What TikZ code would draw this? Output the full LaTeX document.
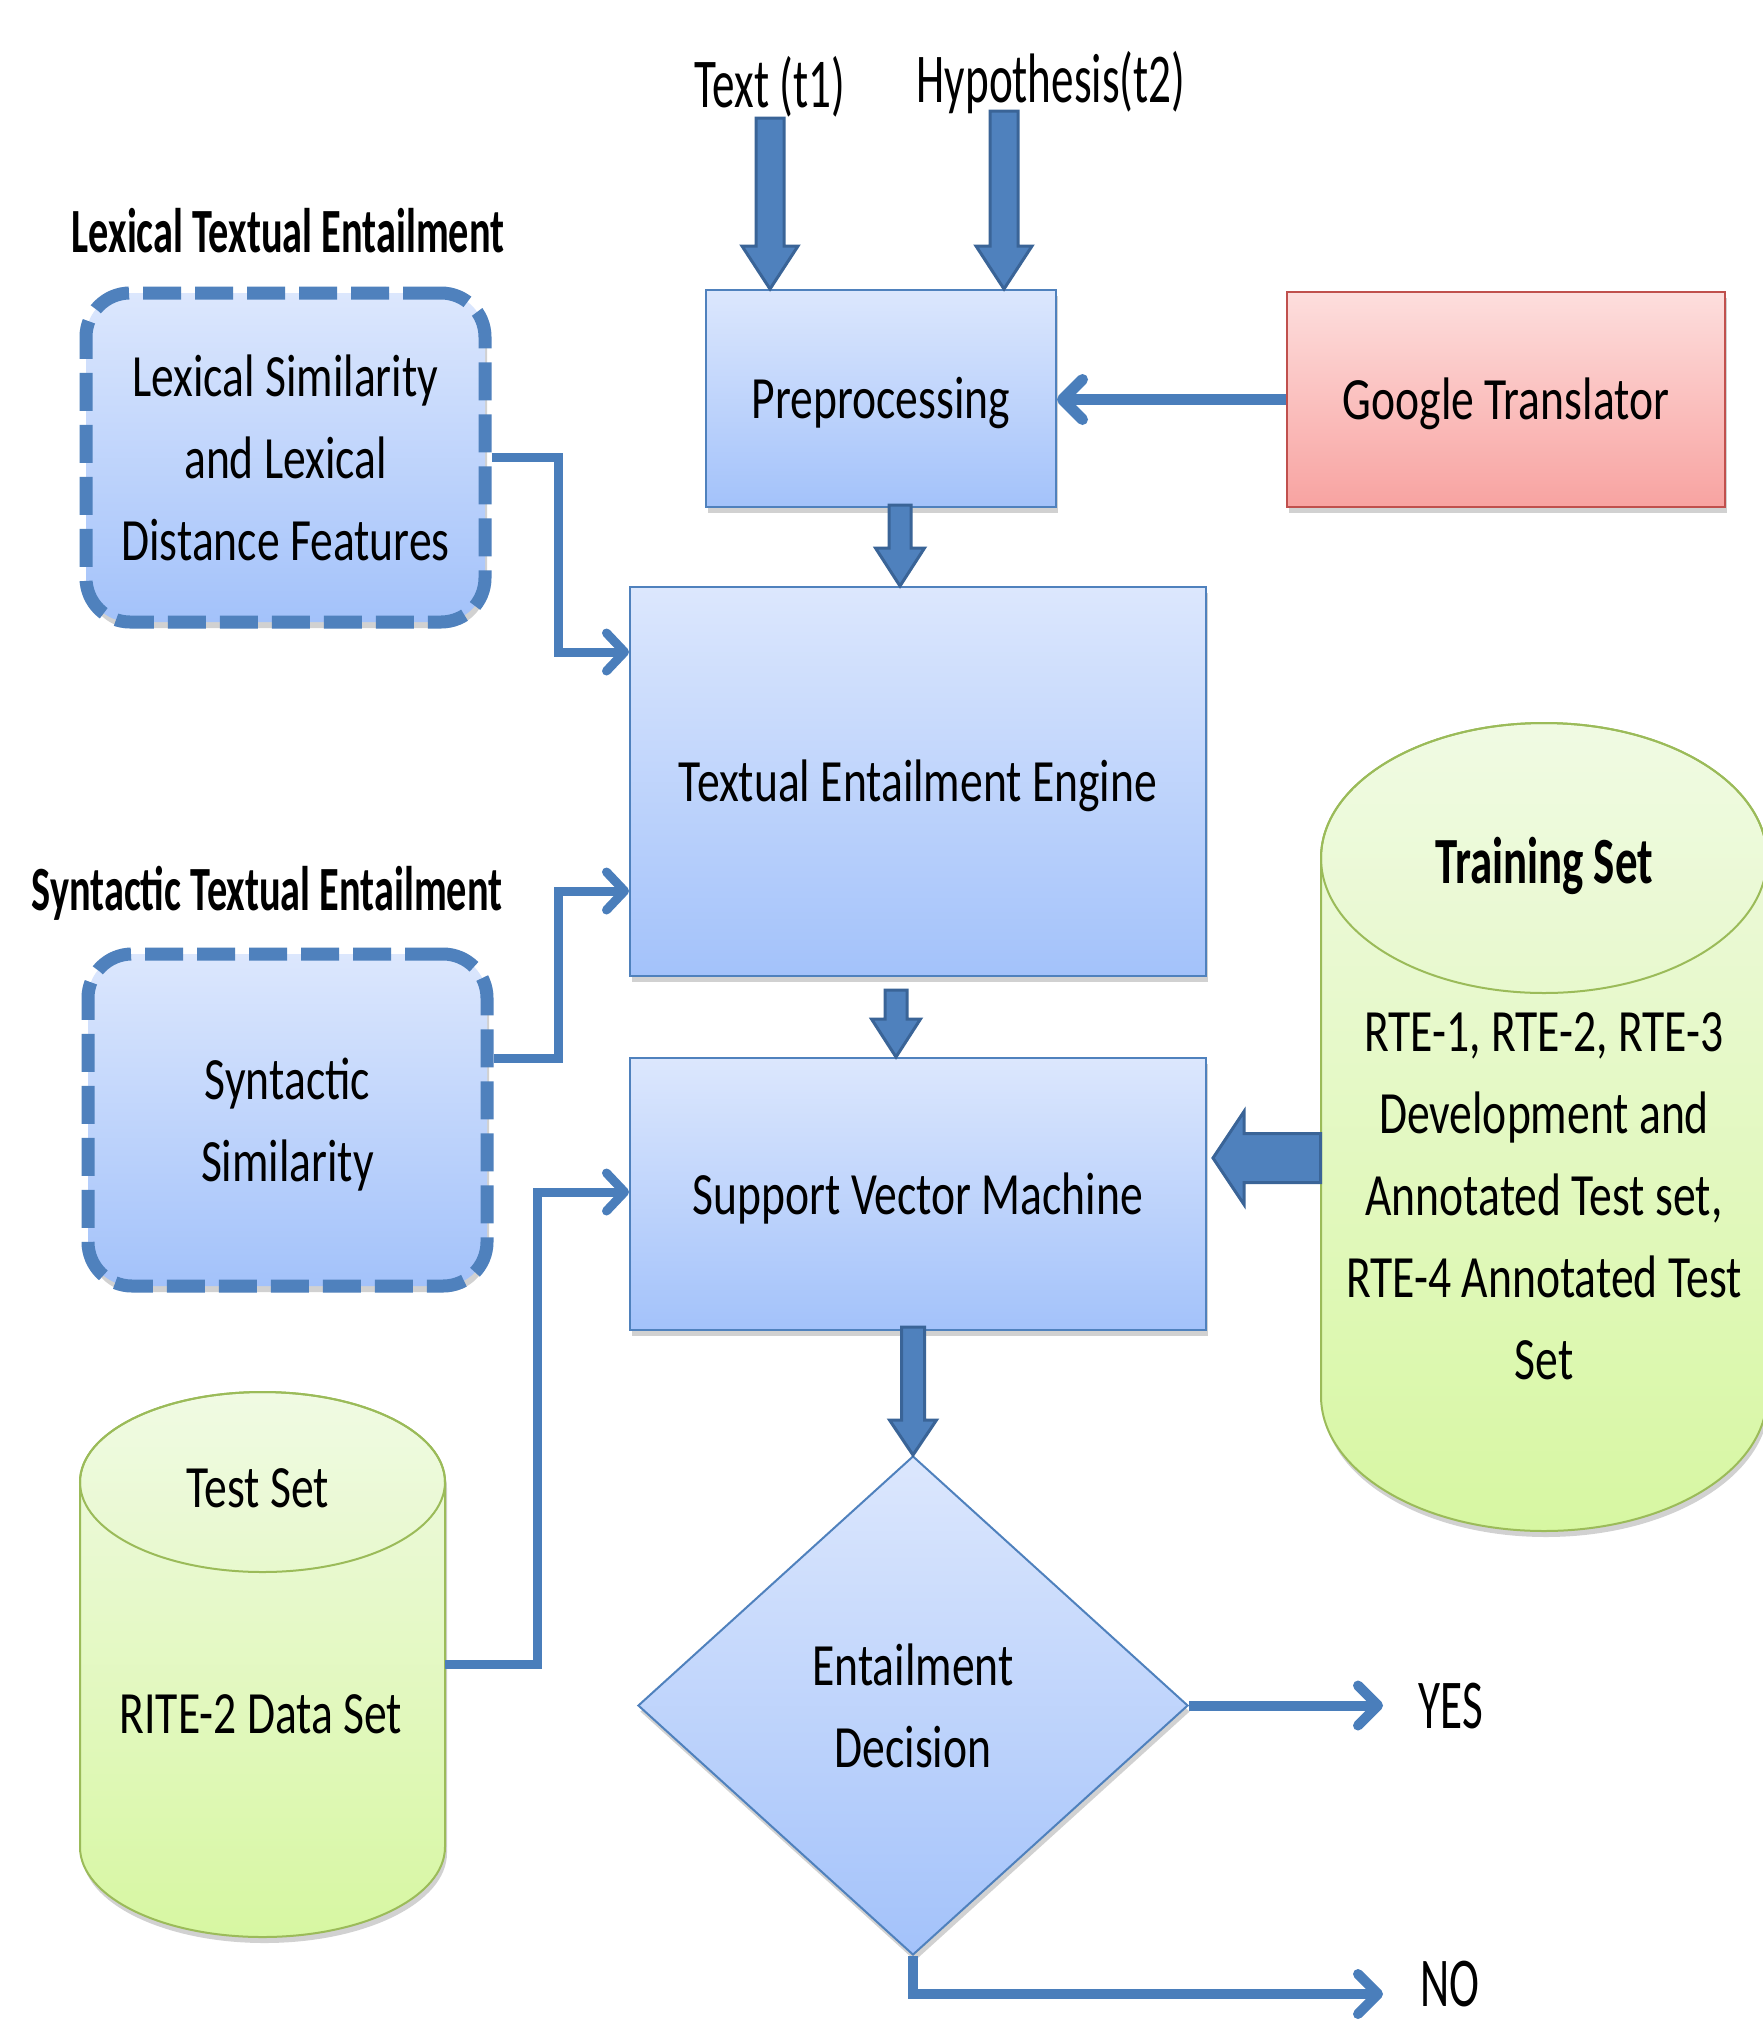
\documentclass[tikz,border=0pt]{standalone}
\usepackage{fontspec}
\setmainfont{Carlito}
\newfontfamily\boxf{Carlito}[FakeStretch=0.76]
\newfontfamily\labf{Carlito}[FakeStretch=0.645]
\newfontfamily\headf{Carlito}[FakeStretch=0.64]
\newfontfamily\trainf{Carlito}[FakeStretch=0.68]
\usetikzlibrary{arrows.meta,calc,shapes.geometric,shadows}

\definecolor{bluetop}{HTML}{DCE7FD}
\definecolor{bluebot}{HTML}{A3C2FA}
\definecolor{boxline}{HTML}{4F81BD}
\definecolor{arrfill}{HTML}{4F81BD}
\definecolor{arrline}{HTML}{3A6497}
\definecolor{connc}{HTML}{4A7EBB}
\definecolor{redtop}{HTML}{FDDEDD}
\definecolor{redbot}{HTML}{F8A3A1}
\definecolor{redline}{HTML}{C0504D}
\definecolor{greentop}{HTML}{F0FAE3}
\definecolor{greenbot}{HTML}{D7F7A2}
\definecolor{greenline}{HTML}{9BBB59}

\tikzset{
  shad/.style={drop shadow={shadow xshift=1pt,shadow yshift=-3pt,opacity=0.18,fill=black}},
  boxtext/.style={font=\boxf\fontsize{30}{41}\selectfont,align=center},
  box/.style={draw=boxline,line width=1pt,top color=bluetop,bottom color=bluebot,
    inner sep=0pt,boxtext,shad},
  oneline/.style={text height=20pt,text depth=0pt},
  redbox/.style={box,draw=redline,top color=redtop,bottom color=redbot},
  dbox/.style={box,line width=6.5pt,rounded corners=22pt,dash pattern=on 19pt off 7pt},
  dia/.style={box,diamond},
  cyl/.style={draw=greenline,line width=1pt,top color=greentop,bottom color=greenbot,shad},
  cylline/.style={draw=greenline,line width=1pt},
  labtext/.style={font=\labf\fontsize{35}{42}\selectfont,inner sep=0pt},
  headtext/.style={font=\headf\bfseries\fontsize{31.5}{38}\selectfont,inner sep=0pt},
  traintext/.style={font=\trainf\bfseries\fontsize{33}{40}\selectfont,inner sep=0pt},
  conn/.style={draw=connc,line width=4.5pt,-{Straight Barb[round,length=9pt,width=19pt]}},
  conng/.style={conn,line width=5.5pt,-{Straight Barb[round,length=10pt,width=20pt]}},
  conny/.style={conn,line width=5pt,-{Straight Barb[round,length=10pt,width=20pt]}},
  fatarr/.style={fill=arrfill,draw=arrline,line width=1.5pt,line join=miter},
}

% vertical downward block arrow: start, end, half shaft, half head, head length
\newcommand\fatv[5]{%
  \draw[fatarr] let \p1=(#1), \p2=(#2) in
    (\x1-#3,\y1) -- (\x1+#3,\y1) -- (\x1+#3,\y2+#5) -- (\x1+#4,\y2+#5) --
    (\x1,\y2) -- (\x1-#4,\y2+#5) -- (\x1-#3,\y2+#5) -- cycle;}
% horizontal leftward block arrow
\newcommand\fath[5]{%
  \draw[fatarr] let \p1=(#1), \p2=(#2) in
    (\x1,\y1+#3) -- (\x1,\y1-#3) -- (\x2+#5,\y1-#3) -- (\x2+#5,\y1-#4) --
    (\x2,\y1) -- (\x2+#5,\y1+#4) -- (\x2+#5,\y1+#3) -- cycle;}

\begin{document}
\begin{tikzpicture}[x=0.5pt,y=-0.5pt]
\fill[white] (0,0) rectangle (1762,2024);
\useasboundingbox (0,0) rectangle (1762,2024);

% cylinders
\path[cyl] (1321,858) -- (1321,1396)
  arc[start angle=180,end angle=360,x radius=111.5pt,y radius=67.5pt]
  -- (1767,858)
  arc[start angle=0,end angle=180,x radius=111.5pt,y radius=67.5pt] -- cycle;
\draw[cylline] (1544,858) ellipse[x radius=111.5pt,y radius=67.5pt];
\node[inner sep=0pt,minimum width=223pt,minimum height=404pt] (train) at (1544,1127) {};

\path[cyl] (80,1482) -- (80,1847)
  arc[start angle=180,end angle=360,x radius=91.25pt,y radius=45pt]
  -- (445,1482)
  arc[start angle=0,end angle=180,x radius=91.25pt,y radius=45pt] -- cycle;
\draw[cylline] (262.5,1482) ellipse[x radius=91.25pt,y radius=45pt];
\node[inner sep=0pt,minimum width=182.5pt,minimum height=272.5pt] (testset) at (262.5,1664.5) {};

% boxes
\node[box,oneline,minimum width=175pt,minimum height=108.5pt] (pre) at (881,398.5) {Preprocessing};
\node[redbox,oneline,minimum width=219pt,minimum height=107.5pt] (google) at (1506,399.5) {Google Translator};
\node[box,oneline,minimum width=288pt,minimum height=194.5pt] (tee) at (918,781.5) {Textual Entailment Engine};
\node[box,oneline,minimum width=288pt,minimum height=136pt] (svm) at (918,1194) {Support Vector Machine};
\node[dbox,minimum width=199.5pt,minimum height=164.5pt] (lex) at (285.5,457.5)
  {Lexical Similarity\\and Lexical\\Distance Features};
\node[dbox,text depth=0pt,minimum width=199.5pt,minimum height=166pt] (syn) at (287.5,1120)
  {Syntactic\\Similarity};
\node[dia,minimum width=275pt,minimum height=249.5pt] (dec) at (913,1705.5)
  {Entailment\\Decision};

% texts
\node[labtext,anchor=base] (t1) at (770,107) {Text (t1)};
\node[labtext,anchor=base] (t2) at (1051,102) {Hypothesis(t2)};
\node[headtext,anchor=base] (lexhead) at (288,252) {Lexical Textual Entailment};
\node[headtext,anchor=base] (synhead) at (267,910) {Syntactic Textual Entailment};
\node[traintext,anchor=base] (traint) at (1544,883) {Training Set};
\node[boxtext,inner sep=0pt] (trainb) at (1544,1196)
  {RTE-1, RTE-2, RTE-3\\Development and\\Annotated Test set,\\RTE-4 Annotated Test\\Set};
\node[boxtext,inner sep=0pt,anchor=base] (testt) at (258,1507) {Test Set};
\node[boxtext,inner sep=0pt,anchor=base] (testb) at (261,1733) {RITE-2 Data Set};
\node[labtext,anchor=base] (yes) at (1451,1728) {YES};
\node[labtext,anchor=base] (no) at (1450,2006) {NO};

% coordinates
\coordinate (t1s) at (770,118);
\coordinate (t2s) at (1004,111);
\coordinate (p2t) at (900,505);
\coordinate (tes) at (896,990);
\coordinate (s2d) at (913,1327);
\coordinate (lexbend) at (558,652);
\coordinate (synbend) at (558,891);
\coordinate (testbend) at (537,1192);
\coordinate (yesend) at (1383,1705.5);
\coordinate (noend) at (1383,1994);
\coordinate (trs) at ($(train.west)+(0,31)$);

% block arrows
\fatv{t1s}{t1s |- pre.north}{7pt}{14pt}{21.5pt}
\fatv{t2s}{t2s |- pre.north}{7pt}{14pt}{21.5pt}
\fatv{p2t}{p2t |- tee.north}{5.5pt}{12.25pt}{19pt}
\fatv{tes}{tes |- svm.north}{5.5pt}{12.25pt}{19pt}
\fatv{s2d}{s2d |- dec.north}{5.75pt}{11.75pt}{17.5pt}
\fath{trs}{$(trs -| svm.east)+(6,0)$}{12.25pt}{23.25pt}{15.5pt}

% connectors
\draw[conng] (google.west) -- (google.west -| pre.east);
\draw[conn] (lex.east) -| (lexbend) -- (lexbend -| tee.west);
\draw[conn] ($(syn.east)+(0,-62)$) -| (synbend) -- (synbend -| tee.west);
\draw[conn] (testset.east) -| (testbend) -- (testbend -| svm.west);
\draw[conny] (dec.east) -- (yesend);
\draw[conny] (dec.south) |- (noend);
\end{tikzpicture}
\end{document}
